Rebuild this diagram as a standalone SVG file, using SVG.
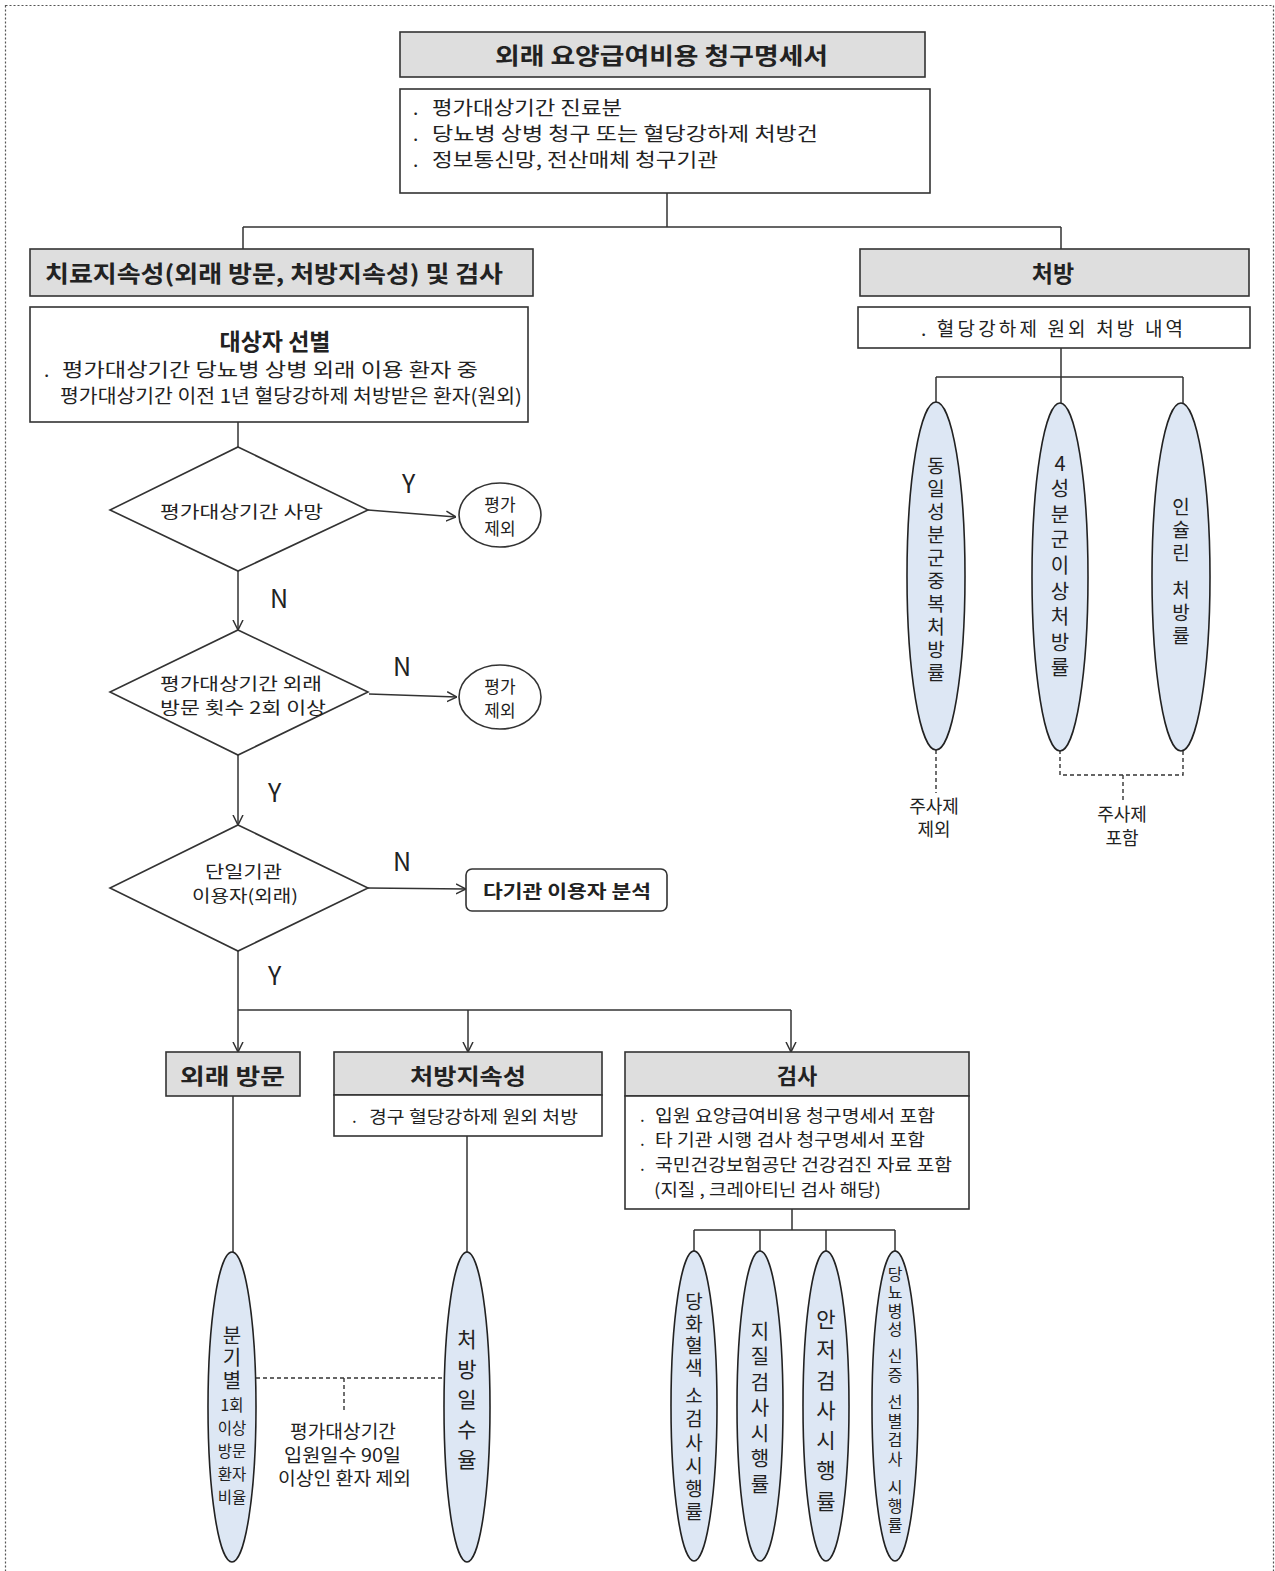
<svg xmlns="http://www.w3.org/2000/svg" width="1275" height="1571" viewBox="0 0 1275 1571">
<style>
text{font-family:"Malgun Gothic","Noto Sans CJK KR","Noto Sans",sans-serif;fill:#222;dominant-baseline:central}
.hd{fill:#dedede;stroke:#333;stroke-width:1.6}
.bx{fill:#fff;stroke:#333;stroke-width:1.6}
.el{fill:#dde7f4;stroke:#222;stroke-width:1.6}
.ln{fill:none;stroke:#333;stroke-width:1.5}
.ds{fill:none;stroke:#333;stroke-width:1.4;stroke-dasharray:4 3}
.b{font-weight:bold}
.c{text-anchor:middle}
.vt{writing-mode:vertical-rl;text-orientation:upright}
</style>
<defs>
<marker id="ar" viewBox="0 0 10 10" refX="10" refY="5" markerWidth="10" markerHeight="12" markerUnits="userSpaceOnUse" orient="auto">
<path d="M0,0 L10,5 L0,10" fill="none" stroke="#333" stroke-width="1.5"/>
</marker>
</defs>
<rect x="5.5" y="5.5" width="1268" height="1575" fill="none" stroke="#555" stroke-width="1.2" stroke-dasharray="2 2"/>

<g id="connectors">
<path class="ln" d="M667,193 V227 M243,227 H1061 M243,227 V249 M1061,227 V249"/>
<path class="ln" d="M238,422 V447"/>
<path class="ln" d="M368,510 L456,517" marker-end="url(#ar)"/>
<path class="ln" d="M238,571 V630" marker-end="url(#ar)"/>
<path class="ln" d="M369,694 L457,697" marker-end="url(#ar)"/>
<path class="ln" d="M238,755 V825" marker-end="url(#ar)"/>
<path class="ln" d="M368,888 L466,889" marker-end="url(#ar)"/>
<path class="ln" d="M238,951 V1052" marker-end="url(#ar)"/>
<path class="ln" d="M238,1010 H791"/>
<path class="ln" d="M468,1010 V1052" marker-end="url(#ar)"/>
<path class="ln" d="M791,1010 V1052" marker-end="url(#ar)"/>
<path class="ln" d="M1061,348 V403 M936,377 H1183 M936,377 V403 M1183,377 V403"/>
<path class="ds" d="M936,750 V793"/>
<path class="ds" d="M1060,750 V775 H1183 V750 M1123,775 V801"/>
<path class="ln" d="M233,1096 V1252"/>
<path class="ln" d="M467,1136 V1252"/>
<path class="ds" d="M256,1378 H442 M344,1378 V1413"/>
<path class="ln" d="M792,1209 V1230 M694,1230 H895 M694,1230 V1251 M760,1230 V1251 M826,1230 V1251 M895,1230 V1251"/>
</g>

<g id="title">
<rect class="hd" x="400" y="32" width="525" height="45"/>
<text class="b" x="495" y="54" font-size="23" textLength="333" lengthAdjust="spacingAndGlyphs">외래 요양급여비용  청구명세서</text>
</g>
<g id="claims">
<rect class="bx" x="400" y="89" width="530" height="104"/>
<text x="413" y="106" font-size="19">.  <tspan x="432" textLength="190" lengthAdjust="spacingAndGlyphs">평가대상기간 진료분</tspan></text>
<text x="413" y="132" font-size="19">.  <tspan x="432" textLength="386" lengthAdjust="spacingAndGlyphs">당뇨병 상병 청구 또는 혈당강하제 처방건</tspan></text>
<text x="413" y="158" font-size="19">.  <tspan x="432" textLength="286" lengthAdjust="spacingAndGlyphs">정보통신망, 전산매체 청구기관</tspan></text>
</g>

<g id="left-header">
<rect class="hd" x="30" y="249" width="503" height="47"/>
<text class="b" x="45" y="272" font-size="23" textLength="458" lengthAdjust="spacingAndGlyphs">치료지속성(외래 방문, 처방지속성) 및 검사</text>
</g>
<g id="selection">
<rect class="bx" x="30" y="307" width="498" height="115"/>
<text class="b c" x="275" y="340" font-size="23">대상자 선별</text>
<text x="44" y="368" font-size="19">.<tspan x="62" textLength="416" lengthAdjust="spacingAndGlyphs">평가대상기간 당뇨병 상병 외래 이용 환자 중</tspan></text>
<text x="60" y="394" font-size="19" textLength="462" lengthAdjust="spacingAndGlyphs">평가대상기간 이전 1년 혈당강하제 처방받은 환자(원외)</text>
</g>

<g id="d1">
<path class="bx" d="M238,447 L368,510 L238,571 L110,510 Z"/>
<text x="160" y="510" font-size="17" textLength="163" lengthAdjust="spacingAndGlyphs">평가대상기간  사망</text>
</g>
<g id="x1">
<ellipse class="bx" cx="500" cy="515" rx="41" ry="32"/>
<text class="c" x="500" y="503" font-size="17">평가</text>
<text class="c" x="500" y="527" font-size="17">제외</text>
</g>
<g id="d2">
<path class="bx" d="M238,630 L368,692 L238,755 L110,692 Z"/>
<text x="160" y="682" font-size="17" textLength="162" lengthAdjust="spacingAndGlyphs">평가대상기간  외래</text>
<text x="160" y="706" font-size="17" textLength="166" lengthAdjust="spacingAndGlyphs">방문 횟수 2회 이상</text>
</g>
<g id="x2">
<ellipse class="bx" cx="500" cy="697" rx="41" ry="32"/>
<text class="c" x="500" y="685" font-size="17">평가</text>
<text class="c" x="500" y="709" font-size="17">제외</text>
</g>
<g id="d3">
<path class="bx" d="M238,825 L368,888 L238,951 L110,888 Z"/>
<text x="205" y="870" font-size="17" textLength="77" lengthAdjust="spacingAndGlyphs">단일기관</text>
<text x="192" y="894" font-size="17" textLength="106" lengthAdjust="spacingAndGlyphs">이용자(외래)</text>
</g>
<g id="multi">
<rect class="bx" x="466" y="869" width="201" height="42" rx="6"/>
<text class="b" x="483" y="890" font-size="18" textLength="168" lengthAdjust="spacingAndGlyphs">다기관 이용자 분석</text>
</g>
<g id="yn-labels">
<text x="402" y="482" font-size="25">Y</text>
<text x="270" y="597" font-size="25">N</text>
<text x="393" y="665" font-size="25">N</text>
<text x="268" y="791" font-size="25">Y</text>
<text x="393" y="860" font-size="25">N</text>
<text x="268" y="974" font-size="25">Y</text>
</g>

<g id="rx-header">
<rect class="hd" x="860" y="249" width="389" height="47"/>
<text class="b c" x="1053" y="272" font-size="23">처방</text>
</g>
<g id="rx-detail">
<rect class="bx" x="858" y="307" width="392" height="41"/>
<text x="921" y="327" font-size="19" textLength="262" lengthAdjust="spacing">. 혈당강하제 원외 처방 내역</text>
</g>
<g id="r1">
<ellipse class="el" cx="936" cy="576" rx="29" ry="174"/>
<text class="vt" x="936" y="456.5" font-size="19" letter-spacing="4">동일성분군중복처방률</text>
</g>
<g id="r2">
<ellipse class="el" cx="1060" cy="577" rx="28" ry="174"/>
<text class="vt" x="1060" y="453" font-size="20" letter-spacing="5.6">4성분군이상처방률</text>
</g>
<g id="r3">
<ellipse class="el" cx="1181" cy="577" rx="29" ry="174"/>
<text class="vt" x="1181" y="497.5" font-size="19" letter-spacing="4">인슐린</text>
<text class="vt" x="1181" y="580.5" font-size="19" letter-spacing="4">처방률</text>
</g>
<g id="inj-excl">
<text class="c" x="934" y="805" font-size="18">주사제</text>
<text class="c" x="934" y="828" font-size="18">제외</text>
</g>
<g id="inj-incl">
<text class="c" x="1122" y="813" font-size="18">주사제</text>
<text class="c" x="1122" y="837" font-size="18">포함</text>
</g>

<g id="visit">
<rect class="hd" x="166" y="1052" width="134" height="44"/>
<text class="b" x="180" y="1074" font-size="22" textLength="105" lengthAdjust="spacingAndGlyphs">외래 방문</text>
</g>
<g id="persist">
<rect class="hd" x="334" y="1052" width="268" height="43"/>
<rect class="bx" x="334" y="1095" width="268" height="41"/>
<text class="b" x="410" y="1074" font-size="22" textLength="116" lengthAdjust="spacingAndGlyphs">처방지속성</text>
<text x="352" y="1115" font-size="17">.<tspan x="369" textLength="209" lengthAdjust="spacingAndGlyphs">경구 혈당강하제 원외 처방</tspan></text>
</g>
<g id="test">
<rect class="hd" x="625" y="1052" width="344" height="44"/>
<rect class="bx" x="625" y="1096" width="344" height="113"/>
<text class="b c" x="797" y="1074" font-size="22">검사</text>
<text x="640" y="1114" font-size="17">.<tspan x="655" textLength="280" lengthAdjust="spacingAndGlyphs">입원 요양급여비용 청구명세서 포함</tspan></text>
<text x="640" y="1138" font-size="17">.<tspan x="655" textLength="270" lengthAdjust="spacingAndGlyphs">타 기관 시행 검사 청구명세서 포함</tspan></text>
<text x="640" y="1163" font-size="17">.<tspan x="655" textLength="297" lengthAdjust="spacingAndGlyphs">국민건강보험공단 건강검진 자료 포함</tspan></text>
<text x="654" y="1188" font-size="17" textLength="227" lengthAdjust="spacingAndGlyphs">(지질 , 크레아티닌 검사 해당)</text>
</g>

<g id="b1">
<ellipse class="el" cx="232" cy="1407" rx="24" ry="155"/>
<text class="vt" x="232" y="1325" font-size="20" letter-spacing="2.5">분기별</text>
<text class="c" font-size="15.5"><tspan x="232" y="1404">1회</tspan><tspan x="232" y="1427">이상</tspan><tspan x="232" y="1450">방문</tspan><tspan x="232" y="1473">환자</tspan><tspan x="232" y="1496">비율</tspan></text>
</g>
<g id="b2">
<ellipse class="el" cx="467" cy="1407" rx="23" ry="155"/>
<text class="vt" x="467" y="1328.5" font-size="21" letter-spacing="9">처방일수율</text>
</g>
<g id="hosp-excl">
<text x="290" y="1430" font-size="18" textLength="106" lengthAdjust="spacingAndGlyphs">평가대상기간</text>
<text x="284" y="1454" font-size="18" textLength="117" lengthAdjust="spacingAndGlyphs">입원일수 90일</text>
<text x="278" y="1477" font-size="18" textLength="133" lengthAdjust="spacingAndGlyphs">이상인 환자 제외</text>
</g>
<g id="t1">
<ellipse class="el" cx="694" cy="1406" rx="23" ry="155"/>
<text class="vt" x="694" y="1292.5" font-size="19" letter-spacing="3">당화혈색</text>
<text class="vt" x="694" y="1386.5" font-size="19" letter-spacing="4.2">소검사시행률</text>
</g>
<g id="t2">
<ellipse class="el" cx="760" cy="1406" rx="23" ry="155"/>
<text class="vt" x="760" y="1321" font-size="20" letter-spacing="5.5">지질검사시행률</text>
</g>
<g id="t3">
<ellipse class="el" cx="826" cy="1406" rx="23" ry="155"/>
<text class="vt" x="826" y="1308.5" font-size="21" letter-spacing="9.3">안저검사시행률</text>
</g>
<g id="t4">
<ellipse class="el" cx="895" cy="1406" rx="23" ry="155"/>
<text class="vt" x="895" y="1266" font-size="16" letter-spacing="2.3">당뇨병성</text>
<text class="vt" x="895" y="1348" font-size="16" letter-spacing="3">신증</text>
<text class="vt" x="895" y="1394" font-size="16" letter-spacing="3">선별검사</text>
<text class="vt" x="895" y="1479" font-size="16" letter-spacing="3">시행률</text>
</g>
</svg>
